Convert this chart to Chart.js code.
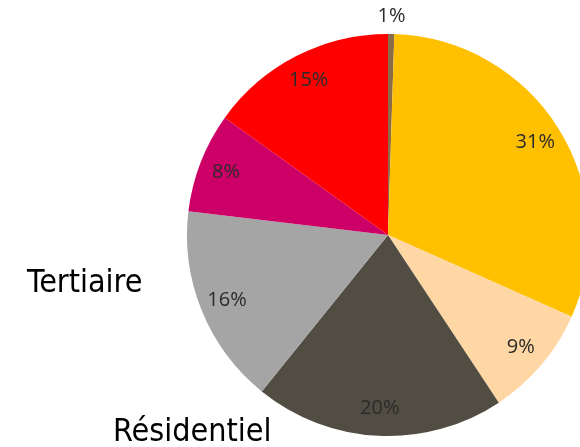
<!DOCTYPE html>
<html>
<head>
<meta charset="utf-8">
<script src="https://cdn.jsdelivr.net/npm/chart.js@4"></script>
<style>
  html, body { margin: 0; padding: 0; background: #fff; overflow: hidden; }
  #wrap { position: relative; width: 580px; height: 447px; overflow: hidden; }
  #pie { position: absolute; left: 0; top: 0; }
</style>
</head>
<body>
<div id="wrap">
  <canvas id="pie" width="600" height="447"></canvas>
</div>
<script>
// ─ 데이터 (위쪽에서 시계 방향)
const shares = [0.5, 31, 9, 20, 16, 8, 15];
const shareLabels = ['1%', '31%', '9%', '20%', '16%', '8%', '15%'];
const sliceColors = ['#8b6c48', '#ffc000', '#ffd7a4', '#524d43', '#a5a5a5', '#cc0066', '#ff0000'];
const sideLabels = ['Tertiaire', 'Résidentiel'];

// ─ 퍼센트 라벨
const pctLabels = {
    id: 'pctLabels',
    afterDatasetsDraw(chart) {
        const ctx = chart.ctx;
        const meta = chart.getDatasetMeta(0);
        ctx.save();
        ctx.font = '20px "Open Sans", "Noto Sans", sans-serif';
        ctx.fillStyle = '#2b2b2b';
        ctx.textAlign = 'center';
        ctx.textBaseline = 'middle';
        meta.data.forEach((arc, i) => {
            const { x, y, startAngle, endAngle, outerRadius } = arc.getProps(['x', 'y', 'startAngle', 'endAngle', 'outerRadius'], true);
            const mid = (startAngle + endAngle) / 2;
            const k = shares[i] < 3 ? 1.09 : 0.865;
            ctx.fillText(shareLabels[i], x + Math.cos(mid) * outerRadius * k, y + Math.sin(mid) * outerRadius * k);
        });
        ctx.restore();
    }
};

// ─ 바깥 라벨
const sideText = {
    id: 'sideText',
    afterDraw(chart) {
        const ctx = chart.ctx;
        ctx.save();
        ctx.font = '32px "Liberation Sans Narrow", "DejaVu Sans Condensed", sans-serif';
        ctx.fillStyle = '#000';
        ctx.textAlign = 'left';
        ctx.textBaseline = 'alphabetic';
        ctx.fillText(sideLabels[0], 27, 292);
        ctx.fillText(sideLabels[1], 113, 441);
        ctx.restore();
    }
};

new Chart(document.getElementById('pie').getContext('2d'), {
    type: 'pie',
    data: {
        labels: shareLabels,
        datasets: [{
            data: shares,
            backgroundColor: sliceColors,
            borderWidth: 0
        }]
    },
    options: {
        responsive: false,
        animation: false,
        layout: { padding: { left: 187, top: 34, right: 11, bottom: 11 } },
        plugins: { legend: { display: false }, tooltip: { enabled: false } }
    },
    plugins: [pctLabels, sideText]
});
</script>
</body>
</html>
